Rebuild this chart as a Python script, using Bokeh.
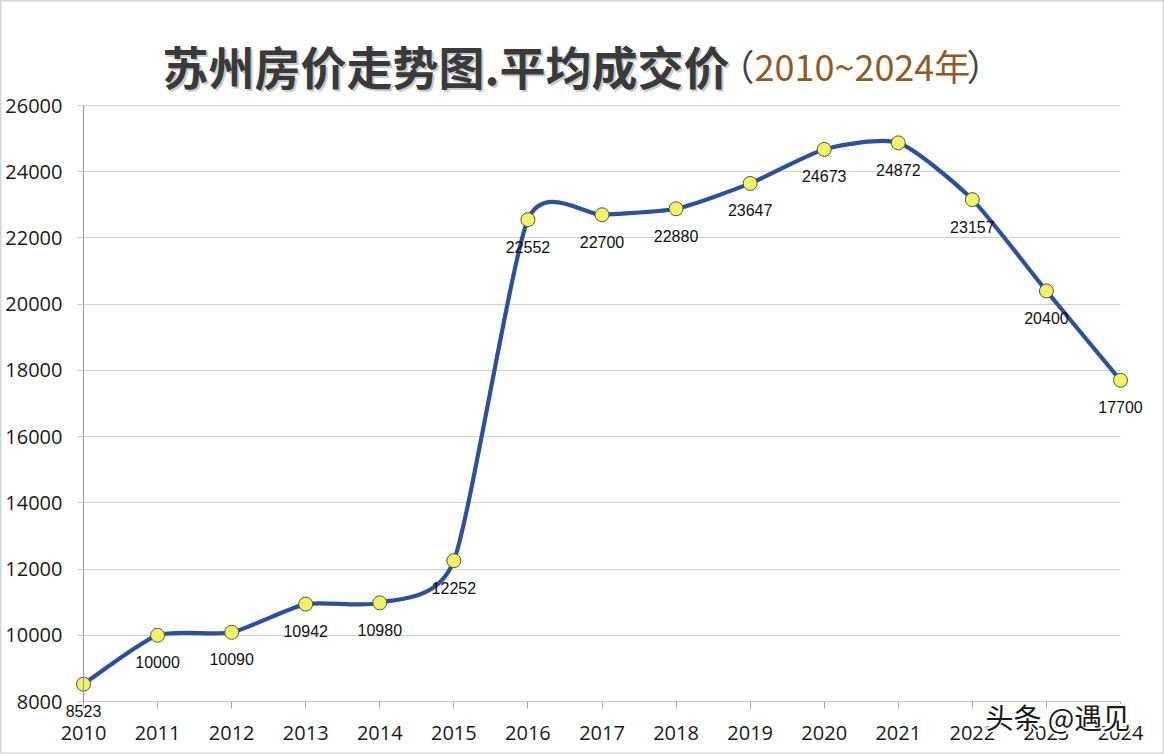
from bokeh.plotting import figure
from bokeh.models import Range1d, Label, LinearAxis, FixedTicker, Grid, ColumnDataSource
from bokeh.core.properties import value
from bokeh.embed import file_html
from bokeh.resources import INLINE

# ---- data ----
years = [2010, 2011, 2012, 2013, 2014, 2015, 2016, 2017, 2018, 2019, 2020, 2021, 2022, 2023, 2024]
prices = [8523, 10000, 10090, 10942, 10980, 12252, 22552, 22700, 22880, 23647, 24673, 24872, 23157, 20400, 17700]
price_labels = [str(v) for v in prices]
y_ticks = [8000, 10000, 12000, 14000, 16000, 18000, 20000, 22000, 24000, 26000]

# ---- layout (pixel geometry of the plot area) ----
W, H = 1164, 754
PX_L, PX_R = 83, 1120      # screen x of first / last year
PY_T, PY_B = 105, 701      # screen y of top / bottom tick
kx = (PX_R - PX_L) / (years[-1] - years[0])
ky = (PY_B - PY_T) / (y_ticks[-1] - y_ticks[0])
X0 = years[0] - PX_L / kx
X1 = years[-1] + (W - PX_R) / kx
Y0 = y_ticks[0] - (H - PY_B) / ky
Y1 = y_ticks[-1] + PY_T / ky

def sx(px):
    return X0 + px / kx
def sy(py):
    return Y0 + (H - py) / ky

p = figure(width=W, height=H, output_backend="svg", toolbar_location=None,
           x_range=Range1d(X0, X1), y_range=Range1d(Y0, Y1), min_border=0,
           x_axis_location=None, y_axis_location=None)
p.background_fill_color = "white"
p.border_fill_color = "white"
p.outline_line_color = "#d6d6d6"
p.outline_line_width = 2
p.xgrid.grid_line_color = None
p.ygrid.grid_line_color = None

grid = Grid(dimension=1, ticker=FixedTicker(ticks=y_ticks), cross_bounds=(years[0], years[-1]),
            grid_line_color="#cfcfcf", grid_line_width=1)
p.add_layout(grid)

xa = LinearAxis(fixed_location=y_ticks[0], bounds=(years[0], years[-1]), ticker=FixedTicker(ticks=years))
xa.axis_line_color = "#c4c4c4"
xa.major_tick_line_color = "#a8a8a8"
xa.major_tick_out = 7
xa.major_tick_in = 0
xa.minor_tick_line_color = None
xa.major_label_text_font = "Open Sans"
xa.major_label_text_font_size = "20px"
xa.major_label_text_color = "#1a1a1a"
xa.major_label_standoff = 17
p.add_layout(xa, "below")

ya = LinearAxis(fixed_location=years[0], bounds=(y_ticks[0], y_ticks[-1]), ticker=FixedTicker(ticks=y_ticks))
ya.axis_line_color = "#a0a0a0"
ya.axis_line_width = 1.2
ya.major_tick_line_color = "#cfcfcf"
ya.major_tick_out = 6
ya.major_tick_in = 0
ya.minor_tick_line_color = None
ya.major_label_text_font = "Open Sans"
ya.major_label_text_font_size = "20px"
ya.major_label_text_color = "#1a1a1a"
ya.major_label_standoff = 15
p.add_layout(ya, "left")

# smoothed line: bezier segments, Catmull-Rom style tangents with reduced tension
n = len(years)
s = 0.65
x0s, y0s, x1s, y1s, cx0, cy0, cx1, cy1 = [], [], [], [], [], [], [], []
for i in range(n - 1):
    a = max(i - 1, 0)
    b = min(i + 2, n - 1)
    x0s.append(years[i]); y0s.append(prices[i])
    x1s.append(years[i + 1]); y1s.append(prices[i + 1])
    cx0.append(years[i] + (years[i + 1] - years[a]) / 6 * s)
    cy0.append(prices[i] + (prices[i + 1] - prices[a]) / 6 * s)
    cx1.append(years[i + 1] - (years[b] - years[i]) / 6 * s)
    cy1.append(prices[i + 1] - (prices[b] - prices[i]) / 6 * s)
p.bezier(x0=x0s, y0=y0s, x1=x1s, y1=y1s, cx0=cx0, cy0=cy0, cx1=cx1, cy1=cy1,
         line_color="#2b519c", line_width=4.2)

src = ColumnDataSource(dict(x=years, y=prices, t=price_labels))
p.scatter("x", "y", source=src, size=14, marker="circle",
          fill_color="#eef36a", line_color="#55552a", line_width=1)
p.text("x", "y", text="t", source=src, y_offset=27, text_align="center",
       text_baseline="middle", text_font_size="16px", text_color="#111111",
       text_font=value("Liberation Sans"))

# ---- title ----
T = "苏州房价走势图.平均成交价"
p.add_layout(Label(x=sx(162), y=sy(64), text=T, text_font="Noto Sans CJK SC",
                   text_font_style="bold", text_font_size="46px", text_color="#cacaca",
                   text_baseline="middle", x_offset=2, y_offset=-2))
p.add_layout(Label(x=sx(162), y=sy(64), text=T, text_font="Noto Sans CJK SC",
                   text_font_style="bold", text_font_size="46px", text_color="#3a3a3a",
                   text_baseline="middle"))
p.add_layout(Label(x=sx(718), y=sy(64), text="（", text_font="Noto Sans CJK SC",
                   text_font_size="36px", text_color="#444444", text_baseline="middle"))
p.add_layout(Label(x=sx(754), y=sy(64), text="2010~2024年", text_font="Noto Sans CJK SC",
                   text_font_size="36px", text_color="#8f5a24", text_baseline="middle"))
p.add_layout(Label(x=sx(966), y=sy(64), text="）", text_font="Noto Sans CJK SC",
                   text_font_size="36px", text_color="#444444", text_baseline="middle"))

# watermark (white halo + dark text)
WM = "头条 @遇见"
WS = "28px"
for dx, dy in [(-2, 0), (2, 0), (0, -2), (0, 2), (-1.5, -1.5), (1.5, 1.5), (-1.5, 1.5), (1.5, -1.5)]:
    p.add_layout(Label(x=sx(985), y=sy(716), text=WM, text_font="Noto Sans CJK SC",
                       text_font_size=WS, text_color="white", text_baseline="middle",
                       x_offset=dx, y_offset=dy))
p.add_layout(Label(x=sx(985), y=sy(716), text=WM, text_font="Noto Sans CJK SC",
                   text_font_size=WS, text_color="#1a1a1a", text_baseline="middle"))

open("out.html", "w").write(file_html(p, INLINE))
